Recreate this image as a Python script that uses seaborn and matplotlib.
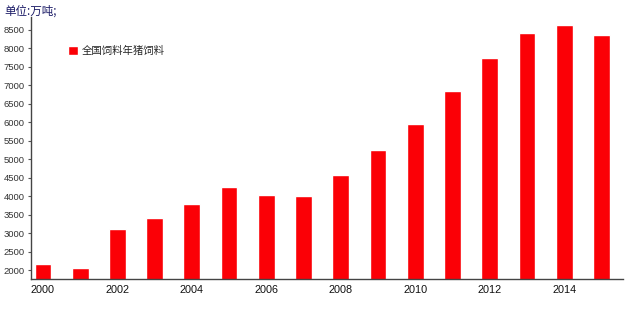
import matplotlib
matplotlib.use("Agg")
import matplotlib.pyplot as plt
import seaborn as sns
import pandas as pd

years = [str(y) for y in range(2000, 2016)]
values = [2155, 2062, 3111, 3409, 3797, 4257, 4032, 4005, 4583, 5240,
          5957, 6851, 7737, 8428, 8628, 8360]
series_name = "全国饲料年猪饲料"
unit_label = "单位:万吨;"
ytick_values = list(range(2000, 9000, 500))
xtick_labels = [y if int(y) % 2 == 0 else "" for y in years]

sns.set_theme(style="white")
plt.rcParams['font.family'] = ['Liberation Sans', 'Noto Sans CJK SC', 'DejaVu Sans']

df = pd.DataFrame({"year": years, "value": values})

fig = plt.figure(figsize=(6.4, 3.12), dpi=100)
ax = fig.add_axes([31/640, 1-279/312, (623-31)/640, (279-17)/312])

sns.barplot(data=df, x="year", y="value", color="#fb0006", saturation=1,
            width=0.45, label=series_name, ax=ax)

ax.set_ylim(1760, 8850)
ax.set_xlim(-0.32, 15.58)
ax.set_yticks(ytick_values)
ax.set_yticklabels([str(v) for v in ytick_values], fontsize=6.8, color="#333333")
ax.set_xticks(range(len(years)))
ax.set_xticklabels(xtick_labels, fontsize=7.8, color="#111111")
ax.tick_params(axis="y", length=2.5, width=0.8, color="#555555", pad=2, left=True)
ax.tick_params(axis="x", length=0, pad=4)
ax.set_xlabel("")
ax.set_ylabel("")

for side in ["top", "right"]:
    ax.spines[side].set_visible(False)
for side in ["left", "bottom"]:
    ax.spines[side].set_visible(True)
    ax.spines[side].set_color("#444444")
    ax.spines[side].set_linewidth(1.0)

fig.text(4/640, 1-11/312, unit_label, fontsize=8.3, color="#1a1a66",
         va="center", ha="left", family=['Noto Sans CJK SC', 'DejaVu Sans'])

leg = ax.legend(loc="upper left", bbox_to_anchor=(0.0625, 0.89), frameon=False,
                borderpad=0, borderaxespad=0,
                prop={"family": ['Noto Sans CJK SC', 'DejaVu Sans'], "size": 7.5},
                handlelength=0.95, handleheight=0.95, handletextpad=0.4)

fig.savefig("out.png", dpi=100)
